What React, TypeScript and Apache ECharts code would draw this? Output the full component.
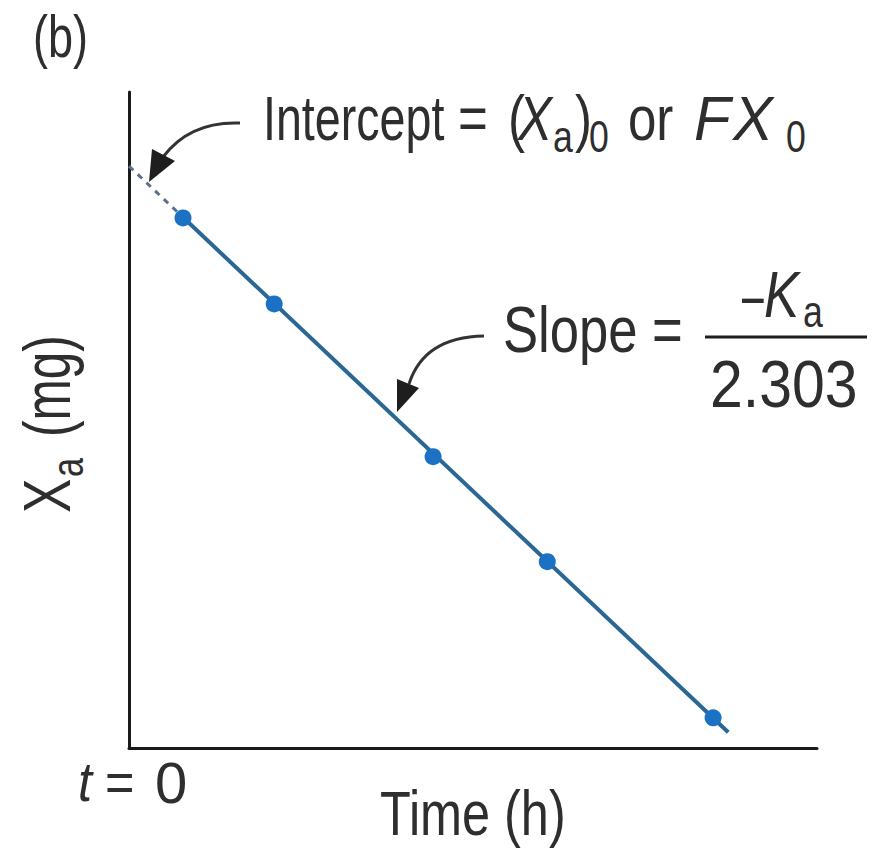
import React, { useEffect, useRef } from "react";
import * as echarts from "echarts";

// Semilog plot of drug remaining to be absorbed (Xa) against time
const timeH = [0.785, 2.11, 4.42, 6.08, 8.49];
const amountMg = [8.08, 6.77, 4.44, 2.84, 0.46];

// Fitted line: extrapolated to t = 0 (intercept), then through the points
const fitTime = [0, 0.785, 8.71];
const fitMg = [8.87, 8.09, 0.24];

const FONT = "Liberation Sans";
const INK = "#2e2e2e";

type TxtOpts = { size: number; italic?: boolean; scaleX?: number; fill?: string };

function txt(text: string, x: number, y: number, o: TxtOpts) {
  return {
    type: "text",
    x,
    y,
    scaleX: o.scaleX ?? 0.81,
    silent: true,
    style: {
      text,
      fill: o.fill ?? INK,
      fontSize: o.size,
      fontFamily: FONT,
      fontStyle: o.italic ? "italic" : "normal",
      textAlign: "left",
      textVerticalAlign: "middle",
      verticalAlign: "middle",
    },
  };
}

function arrow(
  start: [number, number],
  ctrl: [number, number],
  end: [number, number],
  head: [number, number][]
) {
  return [
    {
      type: "bezierCurve",
      silent: true,
      shape: { x1: start[0], y1: start[1], cpx1: ctrl[0], cpy1: ctrl[1], x2: end[0], y2: end[1] },
      style: { stroke: "#333", lineWidth: 3, fill: null },
    },
    {
      type: "polygon",
      silent: true,
      shape: { points: head },
      style: { fill: "#1e1e1e" },
    },
  ];
}

export default function App() {
  const ref = useRef<HTMLDivElement>(null);

  useEffect(() => {
    if (!ref.current) return;
    const chart = echarts.init(ref.current, null, { renderer: "svg" });

    const axisCommon = {
      type: "value" as const,
      min: 0,
      max: 10,
      axisLine: { show: true, onZero: false, lineStyle: { color: "#1a1a1a", width: 3 } },
      axisTick: { show: false },
      axisLabel: { show: false },
      splitLine: { show: false },
    };

    // subscript text sits lower and smaller than the main line
    const SUB = 44;

    const graphic: any[] = [
      // panel letter
      txt("(b)", 33, 36, { size: 60, scaleX: 0.75 }),

      // intercept annotation
      txt("Intercept", 263, 118, { size: 63, scaleX: 0.74 }),
      txt("=", 458, 118, { size: 63 }),
      txt("(", 508, 118, { size: 63 }),
      txt("X", 518, 118, { size: 63, italic: true }),
      txt("a", 553, 137, { size: SUB }),
      txt(")", 575, 118, { size: 63 }),
      txt("0", 589, 137, { size: SUB }),
      txt("or", 628, 118, { size: 63 }),
      txt("F", 694, 118, { size: 63, italic: true, scaleX: 0.95 }),
      txt("X", 733, 118, { size: 63, italic: true, scaleX: 0.95 }),
      txt("0", 786, 137, { size: SUB }),

      // slope annotation
      txt("Slope", 503, 329, { size: 65 }),
      txt("=", 652, 329, { size: 65 }),
      txt("–", 742, 294, { size: 65, scaleX: 0.6 }),
      txt("K", 764, 294, { size: 65, italic: true }),
      txt("a", 803, 312, { size: SUB }),
      {
        type: "line",
        silent: true,
        shape: { x1: 705, y1: 337, x2: 867, y2: 337 },
        style: { stroke: "#1e1e1e", lineWidth: 3 },
      },
      txt("2.303", 710, 384, { size: 67, scaleX: 0.88 }),

      // x axis texts
      txt("t", 78, 782, { size: 56, italic: true, scaleX: 0.9 }),
      txt("=", 105, 782, { size: 56, scaleX: 0.9 }),
      txt("0", 155, 782, { size: 58, scaleX: 1.0 }),
      txt("Time (h)", 380, 813, { size: 63, scaleX: 0.8 }),

      // rotated y axis title
      {
        type: "group",
        x: 47,
        y: 513,
        rotation: Math.PI / 2,
        silent: true,
        children: [
          txt("X", 0, 0, { size: 66, scaleX: 0.78 }),
          txt("a", 36, 20, { size: SUB, scaleX: 0.78 }),
          txt("(mg)", 76, 0, { size: 66, scaleX: 0.75 }),
        ],
      },

      ...arrow([240, 123], [190, 121], [163, 157], [
        [149, 182],
        [152, 149],
        [175, 161],
      ]),
      ...arrow([484, 336], [424, 337], [409, 384], [
        [397, 412],
        [397, 379],
        [419, 388],
      ]),
    ];

    chart.setOption({
      animation: false,
      backgroundColor: "#ffffff",
      grid: { left: 129, top: 92, width: 688, height: 656, containLabel: false },
      xAxis: axisCommon,
      yAxis: axisCommon,
      series: [
        {
          name: "extrapolation",
          type: "line",
          data: [
            [fitTime[0], fitMg[0]],
            [fitTime[1], fitMg[1]],
          ],
          symbol: "none",
          lineStyle: { color: "#5b6f8c", width: 3, type: [6, 6] },
          z: 2,
        },
        {
          name: "fit",
          type: "line",
          data: [
            [fitTime[1], fitMg[1]],
            [fitTime[2], fitMg[2]],
          ],
          symbol: "none",
          lineStyle: { color: "#2a6794", width: 4 },
          z: 3,
        },
        {
          name: "Xa",
          type: "scatter",
          data: timeH.map((t, i) => [t, amountMg[i]]),
          symbol: "circle",
          symbolSize: 17,
          itemStyle: { color: "#1b72c4", opacity: 1 },
          z: 4,
        },
      ],
      graphic,
    });

    return () => chart.dispose();
  }, []);

  return (
    <div
      ref={ref}
      style={{ position: "fixed", left: 0, top: 0, width: 876, height: 849, background: "#fff" }}
    />
  );
}
